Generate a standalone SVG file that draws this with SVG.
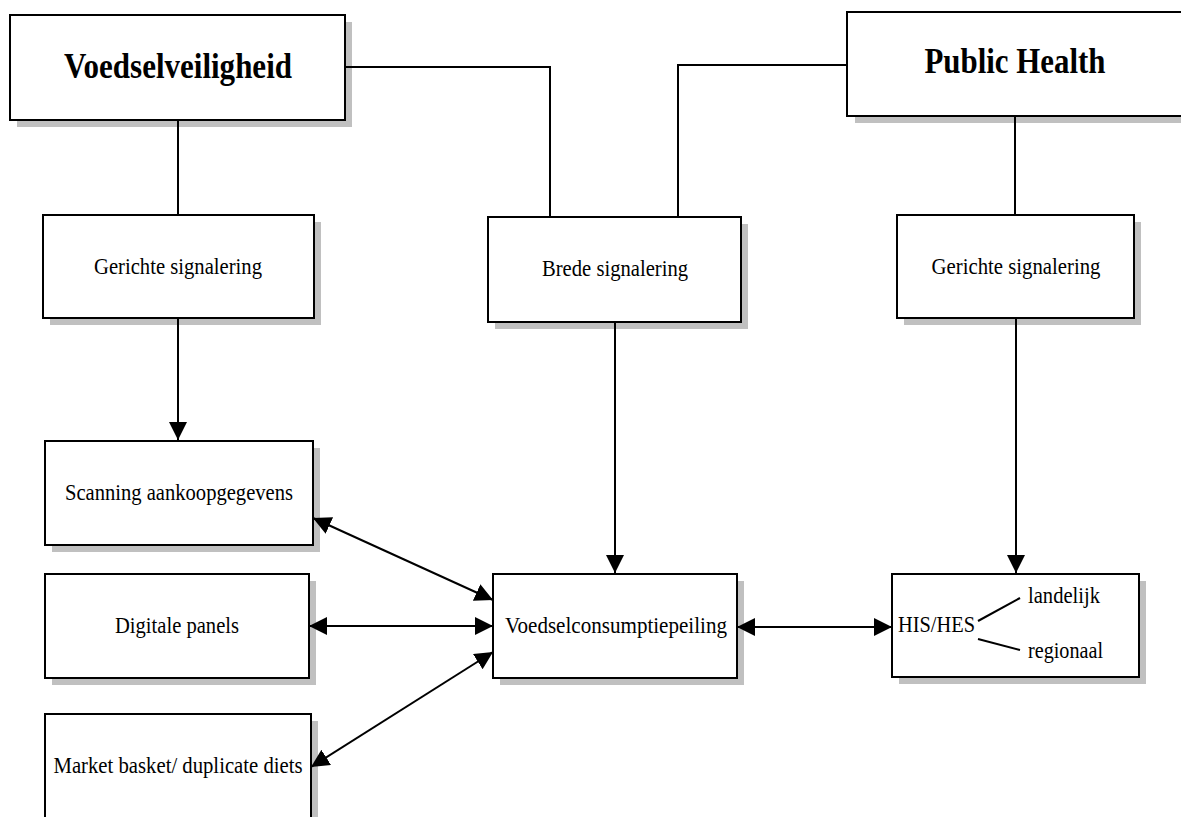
<svg xmlns="http://www.w3.org/2000/svg" width="1181" height="817" viewBox="0 0 1181 817">
  <style>
    .shadow { fill: #c0c0c0; stroke: none; }
    .box { fill: #ffffff; stroke: #000000; stroke-width: 2; }
    .lbl { font-family: "Liberation Serif", "Times New Roman", serif; font-size: 24px; fill: #000000; text-anchor: middle; }
    .title { font-family: "Liberation Serif", "Times New Roman", serif; font-size: 35px; font-weight: bold; fill: #000000; text-anchor: middle; }
    .side { font-family: "Liberation Serif", "Times New Roman", serif; font-size: 24px; fill: #000000; }
    .wire { fill: none; stroke: #000000; stroke-width: 2; }
  </style>
  <defs>
    <marker id="arrow" markerUnits="userSpaceOnUse" markerWidth="19" markerHeight="18" refX="18" refY="9" orient="auto-start-reverse">
      <path d="M0,0 L18,9 L0,18 z" fill="#000000"/>
    </marker>
  </defs>
  <rect width="1181" height="817" fill="#ffffff"/>

  <g id="voedselveiligheid">
    <rect class="shadow" x="17" y="22" width="335" height="105"/>
    <rect class="box" x="10" y="15" width="335" height="105"/>
    <text class="title" x="178" y="78" textLength="228" lengthAdjust="spacingAndGlyphs">Voedselveiligheid</text>
  </g>

  <g id="public-health">
    <rect class="shadow" x="855" y="19" width="340" height="104"/>
    <rect class="box" x="847" y="12" width="345" height="104"/>
    <text class="title" x="1015" y="73" textLength="181" lengthAdjust="spacingAndGlyphs">Public Health</text>
  </g>

  <g id="gerichte-links">
    <rect class="shadow" x="50" y="222" width="271" height="103"/>
    <rect class="box" x="43" y="215" width="271" height="103"/>
    <text class="lbl" x="178" y="274" textLength="168" lengthAdjust="spacingAndGlyphs">Gerichte signalering</text>
  </g>

  <g id="brede">
    <rect class="shadow" x="495" y="224" width="253" height="105"/>
    <rect class="box" x="488" y="217" width="253" height="105"/>
    <text class="lbl" x="615" y="276" textLength="146" lengthAdjust="spacingAndGlyphs">Brede signalering</text>
  </g>

  <g id="gerichte-rechts">
    <rect class="shadow" x="904" y="222" width="237" height="103"/>
    <rect class="box" x="897" y="215" width="237" height="103"/>
    <text class="lbl" x="1016" y="274" textLength="169" lengthAdjust="spacingAndGlyphs">Gerichte signalering</text>
  </g>

  <g id="scanning">
    <rect class="shadow" x="52" y="448" width="268" height="104"/>
    <rect class="box" x="45" y="441" width="268" height="104"/>
    <text class="lbl" x="179" y="500" textLength="228" lengthAdjust="spacingAndGlyphs">Scanning aankoopgegevens</text>
  </g>

  <g id="digitale-panels">
    <rect class="shadow" x="52" y="581" width="264" height="104"/>
    <rect class="box" x="45" y="574" width="264" height="104"/>
    <text class="lbl" x="177" y="633" textLength="124" lengthAdjust="spacingAndGlyphs">Digitale panels</text>
  </g>

  <g id="market-basket">
    <rect class="shadow" x="52" y="721" width="266" height="110"/>
    <rect class="box" x="45" y="714" width="266" height="110"/>
    <text class="lbl" x="178" y="773" textLength="249" lengthAdjust="spacingAndGlyphs">Market basket/ duplicate diets</text>
  </g>

  <g id="voedselconsumptiepeiling">
    <rect class="shadow" x="500" y="581" width="244" height="104"/>
    <rect class="box" x="493" y="574" width="244" height="104"/>
    <text class="lbl" x="616" y="633" textLength="222" lengthAdjust="spacingAndGlyphs">Voedselconsumptiepeiling</text>
  </g>

  <g id="his-hes">
    <rect class="shadow" x="899" y="581" width="247" height="103"/>
    <rect class="box" x="892" y="574" width="247" height="103"/>
    <text class="side" x="898" y="632" textLength="77" lengthAdjust="spacingAndGlyphs">HIS/HES</text>
    <line class="wire" x1="978" y1="621" x2="1020" y2="598"/>
    <line class="wire" x1="978" y1="639" x2="1020" y2="650"/>
    <text class="side" x="1028" y="603" textLength="72" lengthAdjust="spacingAndGlyphs">landelijk</text>
    <text class="side" x="1028" y="658" textLength="75" lengthAdjust="spacingAndGlyphs">regionaal</text>
  </g>

  <!-- connectors, drawn over the box shadows -->
  <g id="connectors">
    <polyline class="wire" points="346,67 550,67 550,216"/>
    <polyline class="wire" points="846,65 678,65 678,217"/>
    <line class="wire" x1="178" y1="121" x2="178" y2="214"/>
    <line class="wire" x1="1015" y1="117" x2="1015" y2="214"/>
    <line class="wire" x1="178" y1="319" x2="178" y2="440" marker-end="url(#arrow)"/>
    <line class="wire" x1="615" y1="323" x2="615" y2="573" marker-end="url(#arrow)"/>
    <line class="wire" x1="1016" y1="319" x2="1016" y2="573" marker-end="url(#arrow)"/>
    <line class="wire" x1="313" y1="518" x2="493" y2="600" marker-start="url(#arrow)" marker-end="url(#arrow)"/>
    <line class="wire" x1="309" y1="626" x2="493" y2="626" marker-start="url(#arrow)" marker-end="url(#arrow)"/>
    <line class="wire" x1="311" y1="767" x2="493" y2="652" marker-start="url(#arrow)" marker-end="url(#arrow)"/>
    <line class="wire" x1="737" y1="627" x2="892" y2="627" marker-start="url(#arrow)" marker-end="url(#arrow)"/>
  </g>
</svg>
